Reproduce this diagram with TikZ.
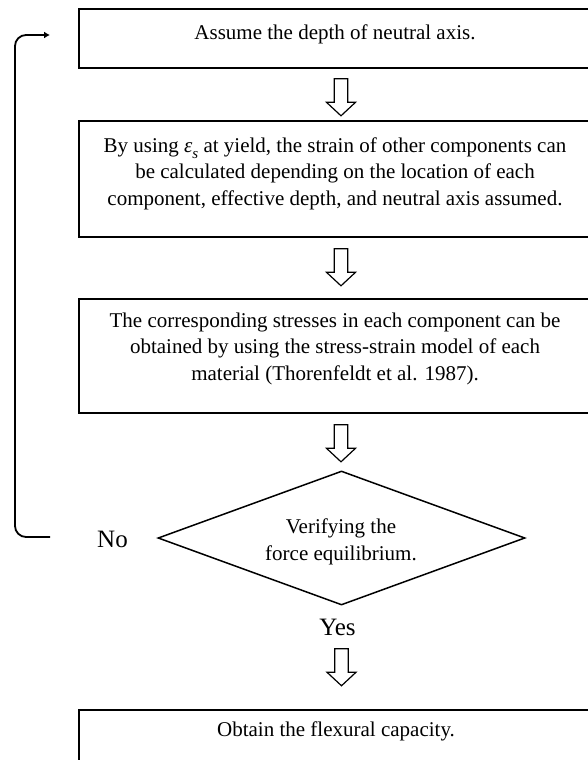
\documentclass[tikz,border=0pt]{standalone}
\usepackage{fontspec}
\setmainfont{Liberation Serif}
\usetikzlibrary{shapes.geometric,arrows.meta}
\newcommand{\epssub}{\textit{ε}\raisebox{-0.28em}{\fontsize{15}{15}\selectfont\textit{s}}}
\tikzset{
  boxshape/.style={draw, line width=1.6pt, minimum width=510pt, inner sep=0pt},
  txt/.style={font=\fontsize{21}{26.5}\selectfont, align=center, inner sep=0pt},
  bigtxt/.style={font=\fontsize{25}{30}\selectfont, inner sep=0pt},
  decision/.style={draw, diamond, line width=1.5pt, minimum width=367pt, minimum height=134pt, inner sep=0pt},
  loopline/.style={line width=1.8pt, rounded corners=11pt, -{Latex[length=6pt,width=7pt]}},
  hollowdown/.pic={\draw[line width=1.2pt, line join=miter]
      (-6.7,0) -- (6.7,0) -- (6.7,23.5) -- (14.5,23.5) -- (0,37) -- (-14.5,23.5) -- (-6.7,23.5) -- cycle;}
}
\begin{document}
\begin{tikzpicture}[x=1pt, y=-1pt]
\useasboundingbox (0,0) rectangle (587,760);

% boxes
\node[boxshape, minimum height=59pt]  (b1) at (334,38.5) {};
\node[boxshape, minimum height=116pt] (b2) at (334,179) {};
\node[boxshape, minimum height=114pt] (b3) at (334,356) {};
\node[boxshape, minimum height=65pt]  (b4) at (334,742.5) {};
\node[decision] (dec) at (341.5,538) {};

% texts
\node[txt, anchor=base] (t1) at (335,39.5) {Assume the depth of neutral axis.};
\node[txt] (t2) at (335,173.6) {By using \epssub{} at yield, the strain of other components can\\
  be calculated depending on the location of each\\
  component, effective depth, and neutral axis assumed.};
\node[txt] (t3) at (335,348.6) {The corresponding stresses in each component can be\\
  obtained by using the stress-strain model of each\\
  material (Thorenfeldt et al. 1987).};
\node[txt] (t5) at (341,541.6) {Verifying the\\force equilibrium.};
\node[txt, anchor=base] (t4) at (336,736.7) {Obtain the flexural capacity.};

\node[bigtxt, anchor=base] (no) at (112.5,547) {No};
\node[bigtxt, anchor=base] (yes) at (337.5,635) {Yes};

% hollow arrows
\path (b1.south) ++(7,10) pic {hollowdown};
\path (b2.south) ++(7,11) pic {hollowdown};
\path (b3.south) ++(7,11) pic {hollowdown};
\path (dec.south) ++(0,43) pic {hollowdown};

% loop back
\coordinate (loopbot) at (50,537);
\coordinate (looptop) at (50,35);
\draw[loopline] (loopbot) -- (15,537) -- (15,35) -- (looptop);
\end{tikzpicture}
\end{document}
